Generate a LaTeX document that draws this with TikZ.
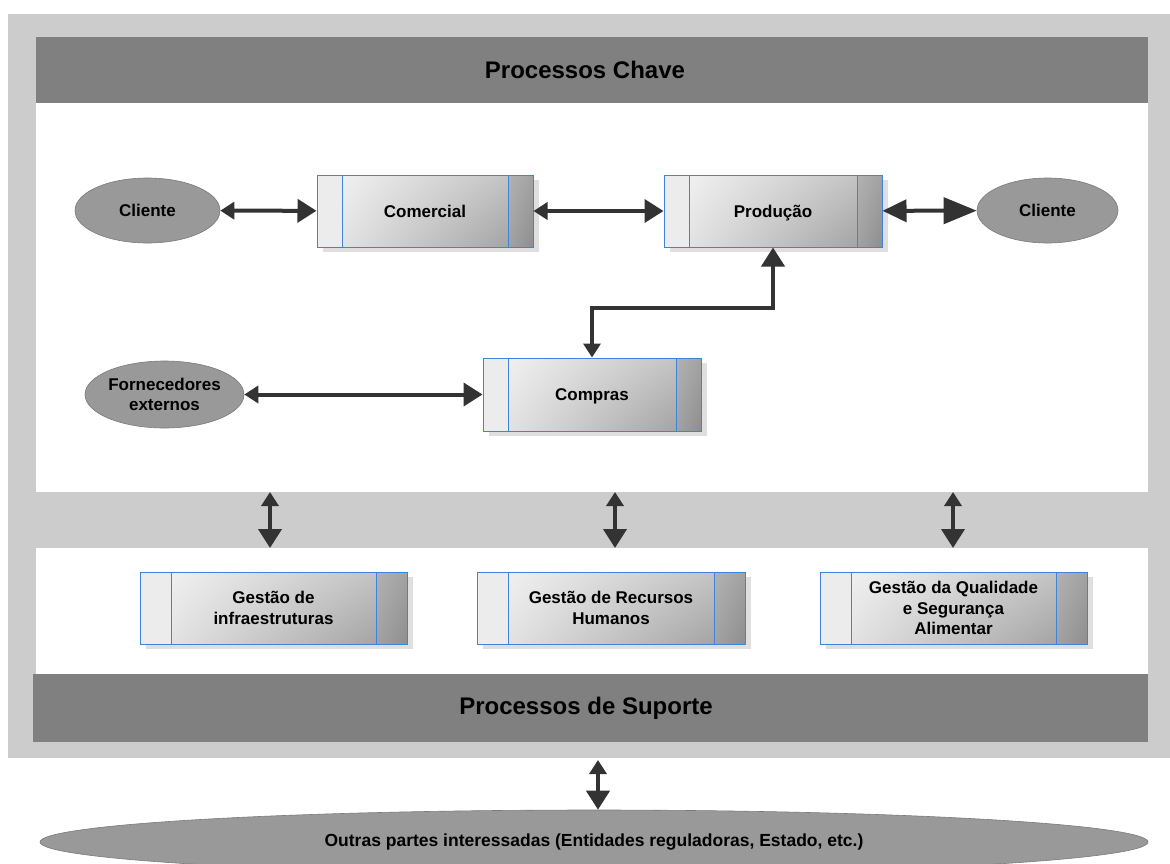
\documentclass[tikz,border=0pt]{standalone}
\usepackage{fontspec}
\setmainfont{Liberation Sans}
\usetikzlibrary{arrows.meta,shadows,shadings,shapes.geometric}

\definecolor{framegray}{HTML}{CCCCCC}
\definecolor{bargray}{HTML}{808080}
\definecolor{ovalgray}{HTML}{999999}
\definecolor{ovalline}{HTML}{7A7A7A}
\definecolor{boxblue}{HTML}{3D85D8}
\definecolor{stripgray}{HTML}{ECECEC}
\definecolor{shadowgray}{HTML}{DFDFDF}
\definecolor{arrowgray}{HTML}{333333}
\definecolor{bodylight}{HTML}{F0F0F0}
\definecolor{bodyupr}{HTML}{C4C4C4}
\definecolor{bodylowl}{HTML}{E2E2E2}
\definecolor{bodydark}{HTML}{A4A4A4}
\definecolor{endlight}{HTML}{B2B2B2}
\definecolor{endmid}{HTML}{A2A2A2}
\definecolor{enddark}{HTML}{8E8E8E}

\newlength\sidebar
\setlength\sidebar{25pt}

\tikzset{
  sidebar/.code={\setlength\sidebar{#1}},
  procbox/.style={
    draw=boxblue, line width=1pt, minimum height=72pt, inner sep=0pt,
    align=center, text=black,
    font=\bfseries\fontsize{17}{20.5}\selectfont,
    general shadow={fill=shadowgray, shadow xshift=6pt, shadow yshift=-5pt},
    path picture={
      \fill[stripgray] (path picture bounding box.north west)
        rectangle ([xshift=\sidebar]path picture bounding box.south west);
      \shade[upper left=bodylight, upper right=bodyupr,
             lower left=bodylowl, lower right=bodydark]
        ([xshift=\sidebar]path picture bounding box.north west)
        rectangle ([xshift=-\sidebar]path picture bounding box.south east);
      \shade[upper left=endlight, upper right=endmid,
             lower left=endmid, lower right=enddark]
        ([xshift=-\sidebar]path picture bounding box.north east)
        rectangle (path picture bounding box.south east);
      \draw[boxblue, line width=1pt]
        ([xshift=\sidebar]path picture bounding box.north west)
        -- ([xshift=\sidebar]path picture bounding box.south west)
        ([xshift=-\sidebar]path picture bounding box.north east)
        -- ([xshift=-\sidebar]path picture bounding box.south east);
    }
  },
  oval/.style={
    ellipse, fill=ovalgray, draw=ovalline, line width=0.6pt, inner sep=0pt,
    align=center, text=black,
    font=\bfseries\fontsize{17}{20}\selectfont
  },
  heading/.style={text=black, font=\bfseries\fontsize{24}{28}\selectfont},
  link/.style={draw=arrowgray, line width=4pt},
  smalltip/.style={arrows={Triangle[length=14pt,width=17pt]-Triangle[length=19pt,width=23pt]}},
  bigtip/.style={arrows={Triangle[length=24pt,width=22pt]-Triangle[length=33pt,width=26pt]}}
}

\begin{document}
\begin{tikzpicture}[x=1pt,y=-1pt]
\useasboundingbox (0,0) rectangle (1170,863);

% outer frame, title bars and the two white panels
\fill[framegray] (8,14) rectangle (1170,758);
\fill[bargray] (36,37) rectangle (1148,103);
\fill[white] (36,103) rectangle (1148,492);
\fill[white] (36,548) rectangle (1148,674);
\fill[bargray] (33,674) rectangle (1148,742);

\node[heading] (keyhead) at (585,70) {Processos Chave};
\node[heading] (supphead) at (586,708) {Processos de Suporte};

% key processes
\node[procbox, sidebar=25pt, minimum width=216pt] (comercial) at (425,211) {Comercial};
\node[procbox, sidebar=25pt, minimum width=218pt] (producao) at (773,211)
  {\raisebox{0pt}[\height][0pt]{Produção}};
\node[procbox, sidebar=25pt, minimum width=218pt, minimum height=73pt] (compras) at (592,394.5)
  {\raisebox{0pt}[\height][0pt]{Compras}};

\node[oval, minimum width=145pt, minimum height=65pt] (clienteA) at (147.5,210.5) {Cliente};
\node[oval, minimum width=141pt, minimum height=65pt] (clienteB) at (1047.5,210.5) {Cliente};
\node[oval, minimum width=145pt, minimum height=67pt] (fornec) at (164.5,394.5) {Fornecedores\\externos};

% support processes
\node[procbox, sidebar=31pt, minimum width=267pt] (infra) at (273.5,608) {Gestão de\\infraestruturas};
\node[procbox, sidebar=31pt, minimum width=268pt] (rh) at (611,608) {Gestão de Recursos\\Humanos};
\node[procbox, sidebar=31pt, minimum width=267pt] (qual) at (953.5,608) {Gestão da Qualidade\\e Segurança\\Alimentar};

% other stakeholders
\node[oval, minimum width=1108pt, minimum height=64pt,
      font=\bfseries\fontsize{17.5}{20}\selectfont] (outras) at (594,842)
  {Outras partes interessadas (Entidades reguladoras, Estado, etc.)};

% connectors between the key processes
\draw[link, smalltip] (clienteA) -- (comercial);
\draw[link, smalltip] (comercial) -- (producao);
\draw[link, bigtip] (producao) -- (clienteB);
\draw[link, arrows={Triangle[length=19pt,width=23pt]-Triangle[length=14pt,width=17pt]}]
  (producao.south) -- ++(0,60) -| (compras.north);
\draw[link, smalltip] (fornec) -- (compras);

% links through the middle band
\coordinate (bandAtop) at (270,492);  \coordinate (bandAbot) at (270,548);
\coordinate (bandBtop) at (615,492);  \coordinate (bandBbot) at (615,548);
\coordinate (bandCtop) at (953,492);  \coordinate (bandCbot) at (953,548);
\draw[link, smalltip] (bandAtop) -- (bandAbot);
\draw[link, smalltip] (bandBtop) -- (bandBbot);
\draw[link, smalltip] (bandCtop) -- (bandCbot);

% link from the frame down to the stakeholders
\coordinate (framebot) at (598,760);
\draw[link, smalltip] (framebot) -- (framebot |- outras.north);
\end{tikzpicture}
\end{document}
